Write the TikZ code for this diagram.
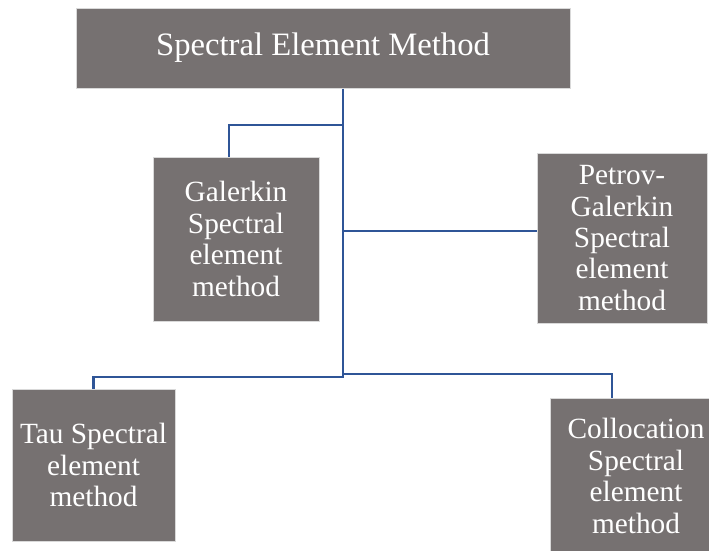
\documentclass[tikz,border=0pt]{standalone}
\usepackage{fontspec}
\setmainfont{Liberation Serif}
\definecolor{boxgray}{HTML}{767171}
\definecolor{boxedge}{HTML}{D9D9D9}
\definecolor{linkblue}{HTML}{2F5597}

\begin{document}
\begin{tikzpicture}[
    x=0.75pt, y=-0.75pt,
    methodbox/.style={rectangle, fill=boxgray, draw=boxedge, line width=0.75pt, text=white, align=center, inner sep=0pt, font=\fontsize{22}{23.6}\selectfont},
    topbox/.style={methodbox, font=\fontsize{24.5}{28}\selectfont},
    link/.style={draw=linkblue, line width=1.8pt}
    ]

    \useasboundingbox (0,0) rectangle (709,550);
    \clip (0,0) rectangle (709,550);

    \node[topbox, minimum width=370.5pt, minimum height=60pt] (sem) at (323,48) {Spectral Element Method};

    \node[methodbox, minimum width=124.5pt, minimum height=123pt] (gal) at (236,239) {Galerkin\\Spectral\\element\\method};
    \node[methodbox, minimum width=127.5pt, minimum height=127.5pt] (pet) at (622,238) {Petrov-\\Galerkin\\Spectral\\element\\method};
    \node[methodbox, minimum width=122.25pt, minimum height=114pt] (tau) at (93.5,465) {Tau Spectral\\element\\method};
    \node[methodbox, minimum width=129pt, minimum height=117pt] (col) at (636,476) {Collocation\\Spectral\\element\\method};

    % junctions on the trunk
    \coordinate (trunk) at (343,378);
    \coordinate (galjoin) at (343,125);
    \coordinate (petjoin) at (343,231);
    \coordinate (taujoin) at (343,377);
    \coordinate (coljoin) at (343,374);

    \draw[link] (sem.south -| trunk) -- (trunk);
    \draw[link] (galjoin) -| ([xshift=-5.25pt]gal.north);
    \draw[link] (petjoin) -- (petjoin -| pet.west);
    \draw[link] (taujoin) -| (tau.north);
    \draw[link] (coljoin) -| ([xshift=-18pt]col.north);

\end{tikzpicture}
\end{document}
